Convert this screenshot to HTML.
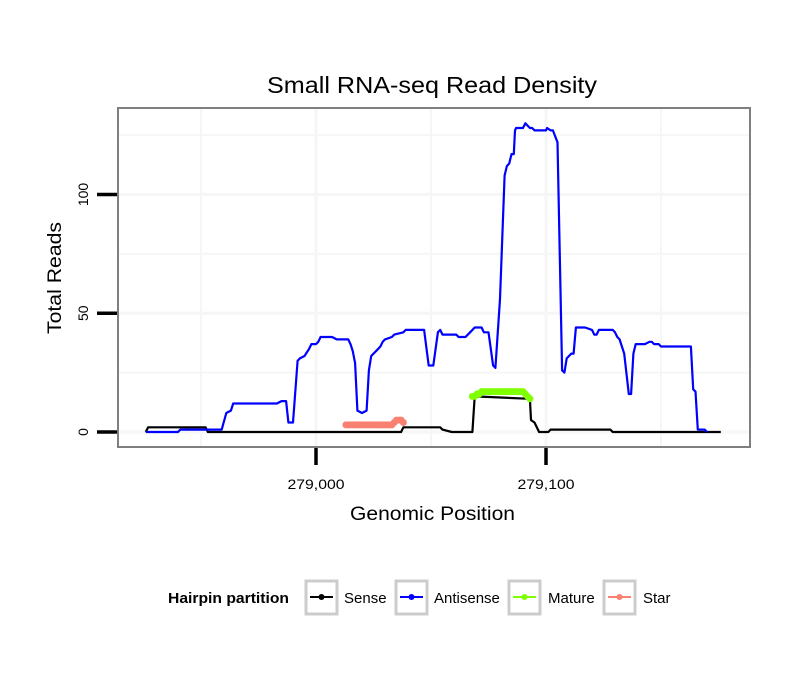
<!DOCTYPE html>
<html><head><meta charset="utf-8"><style>
body{margin:0;background:#fff;font-family:"Liberation Sans",sans-serif;}
</style></head><body>
<svg id="chart" width="810" height="690" xmlns="http://www.w3.org/2000/svg">
<text x="267" y="93" textLength="330" lengthAdjust="spacingAndGlyphs" font-size="23">Small RNA-seq Read Density</text>
<rect x="118" y="108" width="632" height="339" fill="#fff"/>
<g id="grid"></g>
<g id="series"></g>
<rect x="118" y="108" width="632" height="339" fill="none" stroke="#7f7f7f" stroke-width="2"/>
<g id="axes"></g>
<text x="350" y="520" textLength="165" lengthAdjust="spacingAndGlyphs" font-size="19">Genomic Position</text>
<text transform="translate(61,278) rotate(-90)" text-anchor="middle" textLength="112" lengthAdjust="spacingAndGlyphs" font-size="19">Total Reads</text>
<g font-size="15">
<text x="168" y="603" font-weight="bold" textLength="121" lengthAdjust="spacingAndGlyphs">Hairpin partition</text>
<g><rect x="306" y="581" width="31" height="33" fill="none" stroke="#cccccc" stroke-width="3"/><line x1="310" y1="597" x2="333" y2="597" stroke="#000" stroke-width="2"/><circle cx="321.5" cy="597" r="3" fill="#000"/><text x="344" y="603">Sense</text></g>
<g><rect x="396" y="581" width="31" height="33" fill="none" stroke="#cccccc" stroke-width="3"/><line x1="400" y1="597" x2="423" y2="597" stroke="#0000ff" stroke-width="2"/><circle cx="411.5" cy="597" r="3" fill="#0000ff"/><text x="434" y="603">Antisense</text></g>
<g><rect x="509" y="581" width="31" height="33" fill="none" stroke="#cccccc" stroke-width="3"/><line x1="513" y1="597" x2="536" y2="597" stroke="#7fff00" stroke-width="2"/><circle cx="524.5" cy="597" r="3" fill="#7fff00"/><text x="548" y="603">Mature</text></g>
<g><rect x="604" y="581" width="31" height="33" fill="none" stroke="#cccccc" stroke-width="3"/><line x1="608" y1="597" x2="631" y2="597" stroke="#fa8072" stroke-width="2"/><circle cx="619.5" cy="597" r="3" fill="#fa8072"/><text x="643" y="603">Star</text></g>
</g>
</svg>
<script>
const antisensePos=[278926,278940,278941,278951,278959,278961,278963,278964,278983,278985,278987,278988,278990,278992,278993,278995,278997,278998,279000,279001,279002,279007,279009,279014,279015,279016,279017,279018,279020,279022,279023,279024,279026,279028,279029,279030,279033,279034,279038,279039,279046,279047,279049,279051,279053,279054,279055,279061,279062,279065,279067,279069,279072,279073,279075,279077,279078,279080,279082,279083,279084,279085,279086,279086.5,279087,279090,279091,279092,279093,279094,279095,279100,279100.5,279102,279103,279105,279107,279108,279109,279111,279112,279113,279117,279120,279121,279122,279123,279125,279126,279127,279129,279130,279131,279132,279134,279136,279137,279138,279139,279143,279145,279146,279147,279149,279150,279163,279164,279165,279166,279169,279170];
const antisenseVal=[0,0,1,1,1,8,9,12,12,13,13,4,4,30,31,32,35,37,37,38,40,40,39,39,37,34,29,9,8,9,26,32,34,36,38,39,40,41,42,43,43,43,28,28,42,43,41,41,40,40,42,44,44,42,42,28,27,56,108,112,113,117,117,127,128,128,130,129,128,128,127,127,128,127,127,122,26,25,31,33,33,44,44,43,41,41,43,43,43,43,43,42,40,39,33,16,16,33,37,37,38,38,37,37,36,36,18,17,1,1,0];
const sensePos=[278926,278927,278952,278953,279037,279038,279054,279055,279059,279068,279069,279093,279093.5,279095,279097,279101,279102,279128,279129,279176];
const senseVal=[0,2,2,0,0,2,2,1,0,0,15,14,5,4,0,0,1,1,0,0];
const maturePos=[279068,279069,279070,279071,279072,279073,279074,279075,279076,279077,279078,279079,279080,279081,279082,279083,279084,279085,279086,279087,279088,279089,279090,279091,279092,279093];
const matureVal=[15,15,16,16,17,17,17,17,17,17,17,17,17,17,17,17,17,17,17,17,17,17,17,16,15,14];
const starPos=[279013,279014,279015,279016,279017,279018,279019,279020,279021,279022,279023,279024,279025,279026,279027,279028,279029,279030,279031,279032,279033,279034,279035,279036,279037,279038];
const starVal=[3,3,3,3,3,3,3,3,3,3,3,3,3,3,3,3,3,3,3,3,3,4,5,5,5,4];
const xTicks=[279000,279100];
const xTickLabels=["279,000","279,100"];
const yTicks=[0,50,100];
const yTickLabels=["0","50","100"];

const NS="http://www.w3.org/2000/svg";
const sx=v=>316+(v-279000)*2.3;
const sy=v=>432-v*2.375;
function mk(tag,attrs,parent){const e=document.createElementNS(NS,tag);for(const k in attrs)e.setAttribute(k,attrs[k]);parent.appendChild(e);return e;}
const grid=document.getElementById('grid'),ser=document.getElementById('series'),axes=document.getElementById('axes');
[278950,279000,279050,279100,279150].forEach(v=>{const l=mk('line',{x1:sx(v),x2:sx(v),y1:109,y2:446,stroke:'#f6f6f6','stroke-width':(v%100===0)?3:2},grid);

});
[0,25,50,75,100,125].forEach(v=>{const l=mk('line',{x1:119,x2:749,y1:sy(v),y2:sy(v),stroke:'#f6f6f6','stroke-width':(v%50===0)?3:2},grid);

});
function line(pos,val,color,name,w){const p=pos.map((x,i)=>(i?'L':'M')+sx(x).toFixed(1)+','+sy(val[i]).toFixed(1)).join('');
const e=mk('path',{d:p,fill:'none',stroke:color,'stroke-width':w,'stroke-linejoin':'round'},ser);

return e;}
line(sensePos,senseVal,'#000','sense-line',2.2);
line(antisensePos,antisenseVal,'#0000ff','antisense-line',2.2);
function pts(pos,val,color,name){line(pos,val,color,name+'-line',3);pos.forEach((x,i)=>{const c=mk('circle',{cx:sx(x),cy:sy(val[i]),r:3.5,fill:color},ser);

});}
pts(maturePos,matureVal,'#7fff00','mature');
pts(starPos,starVal,'#fa8072','star');
xTicks.forEach((v,i)=>{const t=mk('line',{x1:sx(v),x2:sx(v),y1:448,y2:465,stroke:'#000','stroke-width':3.5},axes);


const tx=mk('text',{x:sx(v),y:489,'text-anchor':'middle','font-size':14,textLength:57,lengthAdjust:'spacingAndGlyphs'},axes);tx.textContent=xTickLabels[i];

});
yTicks.forEach((v,i)=>{const t=mk('line',{x1:97,x2:117,y1:sy(v),y2:sy(v),stroke:'#000','stroke-width':3.5},axes);


const tx=mk('text',{transform:`translate(88,${sy(v)}) rotate(-90)`,'text-anchor':'middle','font-size':14},axes);tx.textContent=yTickLabels[i];

});
</script>
</body></html>
